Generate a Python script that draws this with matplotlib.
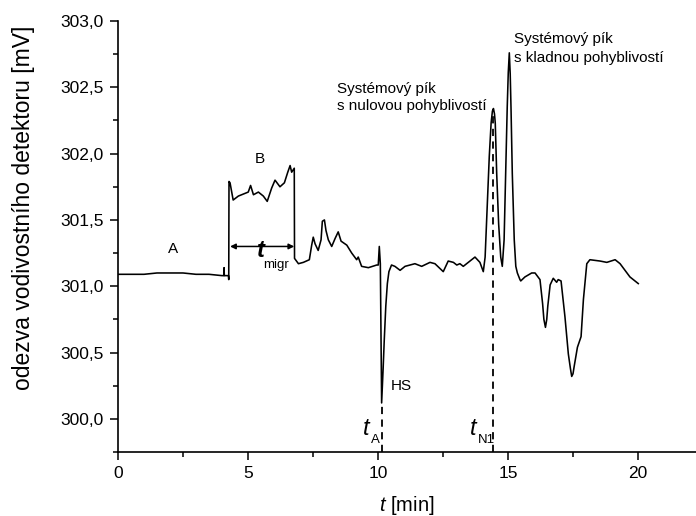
import matplotlib
matplotlib.use("Agg")
import matplotlib.pyplot as plt
from matplotlib.ticker import MultipleLocator, FuncFormatter

plt.rcParams['font.family'] = ['Liberation Sans', 'DejaVu Sans']
plt.rcParams['mathtext.fontset'] = 'custom'
plt.rcParams['mathtext.it'] = 'Liberation Sans:italic'
plt.rcParams['mathtext.rm'] = 'Liberation Sans'

# electropherogram trace (time [min], response [mV])
t = [0.0, 0.5, 1.0, 1.5, 2.0, 2.5, 3.0, 3.5, 4.0, 4.07, 4.08, 4.09, 4.25, 4.26, 4.27,
     4.31, 4.43, 4.63, 4.88, 5.01, 5.10, 5.21, 5.40, 5.59, 5.74, 5.91, 6.04, 6.23,
     6.40, 6.53, 6.62, 6.68, 6.78, 6.79, 6.94, 7.13, 7.36, 7.45, 7.51, 7.58, 7.70,
     7.81, 7.86, 7.94, 8.00, 8.09, 8.22, 8.35, 8.47, 8.58, 8.80, 8.99, 9.18, 9.24,
     9.37, 9.63, 9.95, 10.01, 10.05, 10.09, 10.14, 10.20, 10.24, 10.30, 10.36, 10.42,
     10.52, 10.65, 10.85, 11.04, 11.42, 11.68, 12.00, 12.19, 12.51, 12.70, 12.90,
     13.03, 13.15, 13.28, 13.73, 13.92, 14.05, 14.12, 14.20, 14.28, 14.35, 14.40,
     14.44, 14.48, 14.51, 14.565, 14.64, 14.72, 14.78, 14.85, 14.91, 14.97, 15.01,
     15.05, 15.085, 15.115, 15.165, 15.24, 15.30, 15.36, 15.46, 15.49, 15.65, 15.91,
     16.04, 16.23, 16.33, 16.38, 16.44, 16.49, 16.53, 16.62, 16.74, 16.87, 16.93,
     17.04, 17.19, 17.32, 17.40, 17.45, 17.50, 17.54, 17.67, 17.81, 17.90, 18.03,
     18.15, 18.54, 18.80, 19.12, 19.31, 19.50, 19.69, 20.01]
signal = [301.09, 301.09, 301.09, 301.10, 301.10, 301.10, 301.09, 301.09, 301.08,
          301.08, 301.14, 301.08, 301.08, 301.05, 301.79,
          301.78, 301.65, 301.68, 301.70, 301.71, 301.76, 301.69, 301.71, 301.68,
          301.64, 301.74, 301.80, 301.75, 301.78, 301.86, 301.91, 301.86, 301.89,
          301.21, 301.17, 301.18, 301.20, 301.31, 301.37, 301.32, 301.27, 301.35,
          301.49, 301.50, 301.42, 301.35, 301.30, 301.36, 301.41, 301.34, 301.31,
          301.25, 301.20, 301.22, 301.15, 301.14, 301.16, 301.16, 301.30, 301.17,
          300.12, 300.39, 300.59, 300.85, 301.02, 301.11,
          301.16, 301.15, 301.12, 301.15, 301.17, 301.15, 301.18, 301.17, 301.11,
          301.19, 301.18, 301.16, 301.17, 301.15, 301.22, 301.18, 301.11, 301.22,
          301.60, 301.98, 302.23, 302.32, 302.34, 302.30, 302.23, 301.85, 301.47,
          301.22, 301.15, 301.35, 301.85, 302.35, 302.61, 302.76, 302.60, 302.35,
          301.85, 301.35, 301.15, 301.10, 301.05, 301.04, 301.07, 301.10,
          301.10, 301.05, 300.87, 300.75, 300.69, 300.75, 300.85, 301.01, 301.06,
          301.03, 301.05, 301.04, 300.77, 300.49, 300.38, 300.32, 300.34, 300.39,
          300.54, 300.62, 300.90, 301.17, 301.20, 301.19, 301.18, 301.20, 301.17,
          301.12, 301.07, 301.02]

# marker times and their signal tops
t_A = 10.14
t_A_top = 300.12
t_N1 = 14.44
t_N1_top = 302.34
t_migr_start = 4.31
t_migr_end = 6.78
t_migr_level = 301.30

fig = plt.figure(figsize=(6.96, 5.16), dpi=100)
ax = fig.add_axes([0.1695, 0.124, 0.8305, 0.8353])

ax.plot(t, signal, color='black', lw=1.15, solid_joinstyle='round')

ymin = 299.75
ax.plot([t_A, t_A], [ymin, t_A_top], color='black', lw=1.3, ls=(0, (4, 3)))
ax.plot([t_N1, t_N1], [ymin, t_N1_top], color='black', lw=1.3, ls=(0, (4, 3)))

ax.annotate('', xy=(t_migr_start, t_migr_level), xytext=(t_migr_end, t_migr_level),
            arrowprops=dict(arrowstyle='<|-|>', color='black', lw=1.1,
                            shrinkA=0, shrinkB=0, mutation_scale=8))

ax.set_xlim(0, 22.23)
ax.set_ylim(ymin, 303.0)

ax.spines['top'].set_visible(False)
ax.spines['right'].set_visible(False)
for s in ('left', 'bottom'):
    ax.spines[s].set_linewidth(1.2)

ax.xaxis.set_major_locator(MultipleLocator(5))
ax.xaxis.set_minor_locator(MultipleLocator(2.5))
ax.yaxis.set_major_locator(MultipleLocator(0.5))
ax.yaxis.set_minor_locator(MultipleLocator(0.25))
ax.yaxis.set_major_formatter(FuncFormatter(lambda v, p: f"{v:.1f}".replace('.', ',')))
ax.tick_params(which='major', direction='out', length=6, width=1.1, labelsize=12.5, pad=4)
ax.tick_params(which='minor', direction='out', length=3.5, width=1.1)

ax.set_ylabel('odezva vodivostního detektoru [mV]', fontsize=16.5)
ax.yaxis.set_label_coords(-0.143, 0.566)
ax.set_xlabel(r'$\it{t}$ [min]', fontsize=14.5)
ax.xaxis.set_label_coords(0.5, -0.098)

fs = 11
ax.text(1.92, 301.25, 'A', fontsize=fs, va='baseline')
ax.text(5.27, 301.93, 'B', fontsize=fs, va='baseline')
ax.text(5.35, 301.22, 't', fontsize=17, style='italic', weight='bold', va='baseline')
ax.text(5.58, 301.137, 'migr', fontsize=9.5, va='baseline')
ax.text(10.5, 300.217, 'HS', fontsize=fs, va='baseline')
ax.text(9.42, 299.878, 't', fontsize=17, style='italic', va='baseline')
ax.text(9.73, 299.818, 'A', fontsize=9.5, va='baseline')
ax.text(13.54, 299.878, 't', fontsize=17, style='italic', va='baseline')
ax.text(13.85, 299.818, 'N1', fontsize=9.5, va='baseline')
ax.text(8.42, 302.457, 'Systémový pík', fontsize=fs, va='baseline')
ax.text(8.42, 302.33, 's nulovou pohyblivostí', fontsize=fs, va='baseline')
ax.text(15.23, 302.834, 'Systémový pík', fontsize=fs, va='baseline')
ax.text(15.23, 302.69, 's kladnou pohyblivostí', fontsize=fs, va='baseline')

fig.savefig('out.png', dpi=100)
